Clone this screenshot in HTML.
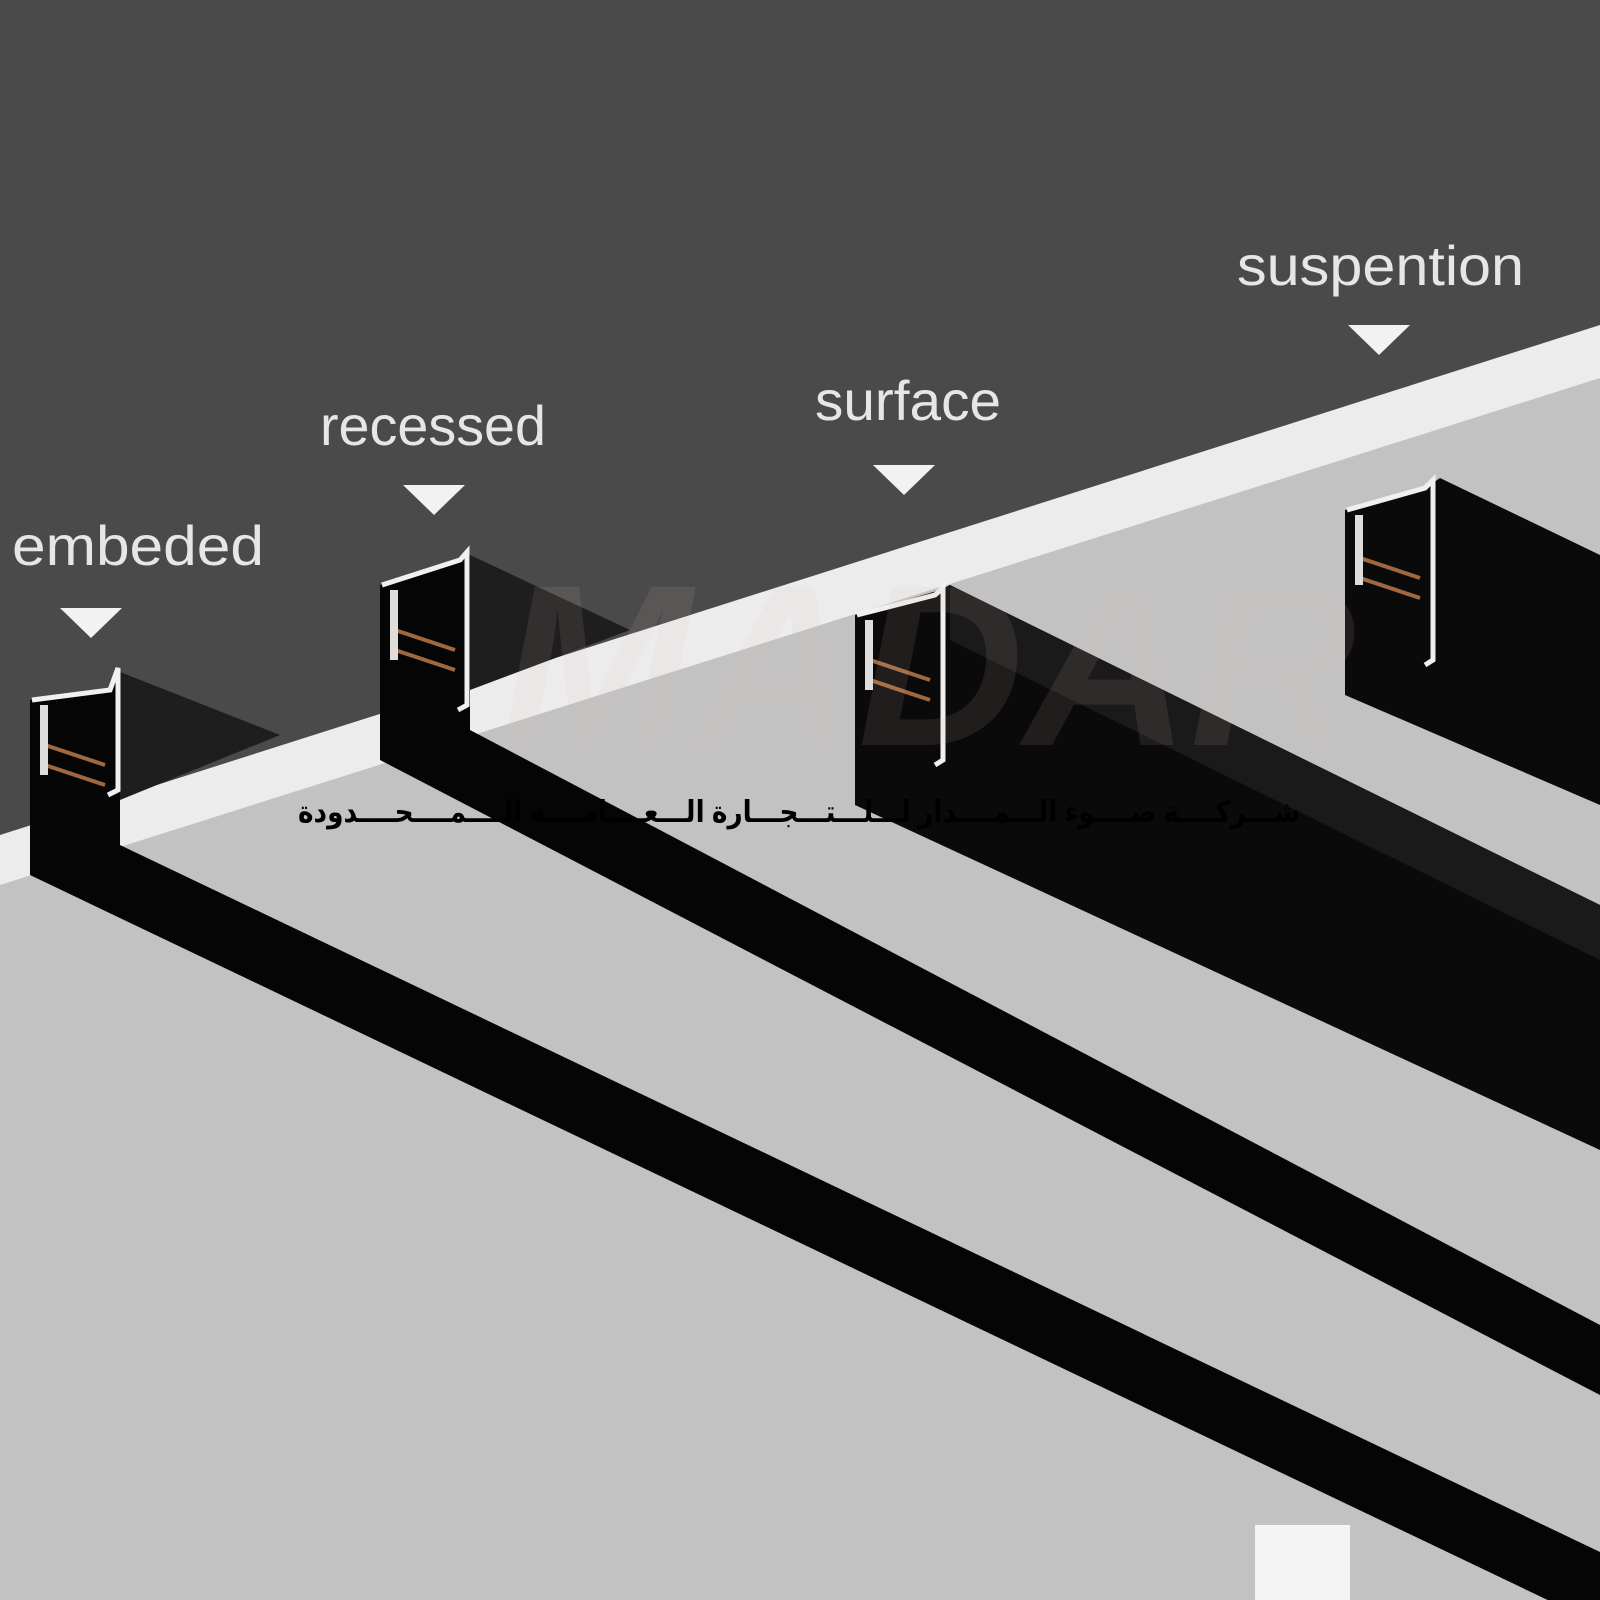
<!DOCTYPE html>
<html><head><meta charset="utf-8"><style>
html,body{margin:0;padding:0;background:#4a4a4a;}
svg{display:block}
</style></head><body>
<svg width="1600" height="1600" viewBox="0 0 1600 1600" xmlns="http://www.w3.org/2000/svg">
<rect width="1600" height="1600" fill="#4a4a4a"/>
<polygon points="0,880 1600,375 1600,1600 0,1600" fill="#c2c2c2"/>
<polygon points="0,835 1600,325 1600,378 0,885" fill="#ececec"/>
<polygon points="120,672 280,735 120,800" fill="#1e1e1e"/>
<polygon points="470,555 630,630 470,690" fill="#1e1e1e"/>
<polygon points="110,690 120,672 120,845 1600,1552 1600,1625 30,875 30,700" fill="#050505"/>
<polygon points="460,560 470,555 470,730 1600,1325 1600,1395 380,760 380,585" fill="#050505"/>
<polygon points="855,615 940,590 950,585 1600,905 1600,1150 855,805" fill="#0a0a0a"/>
<polygon points="950,585 1600,905 1600,960 950,640" fill="#1a1a1a"/>
<polygon points="1345,510 1430,485 1440,478 1600,555 1600,805 1345,695" fill="#0a0a0a"/>
<g fill="none" stroke="#f0f0f0" stroke-width="5">
<path d="M32,700 L110,690 L118,668 L118,790 L108,795"/>
<path d="M382,585 L460,560 L467,552 L467,705 L458,710"/>
<path d="M857,615 L935,595 L943,588 L943,760 L935,765"/>
<path d="M1347,510 L1425,488 L1433,480 L1433,660 L1425,665"/>
</g>
<g stroke="#a0683f" stroke-width="4">
<line x1="45" y1="745" x2="105" y2="765"/><line x1="45" y1="765" x2="105" y2="785"/>
<line x1="395" y1="630" x2="455" y2="650"/><line x1="395" y1="650" x2="455" y2="670"/>
<line x1="870" y1="660" x2="930" y2="680"/><line x1="870" y1="680" x2="930" y2="700"/>
<line x1="1360" y1="558" x2="1420" y2="578"/><line x1="1360" y1="578" x2="1420" y2="598"/>
</g>
<g fill="#ddd">
<rect x="40" y="705" width="8" height="70"/><rect x="390" y="590" width="8" height="70"/>
<rect x="865" y="620" width="8" height="70"/><rect x="1355" y="515" width="8" height="70"/>
</g>
<text x="500" y="745" font-family="Liberation Sans, sans-serif" font-weight="bold" font-style="italic" font-size="230" fill="#e8c0c0" opacity="0.1">MADAR</text>
<g font-family="Liberation Sans, DejaVu Sans, sans-serif" font-size="56" fill="#e6e6e6">
<text x="12" y="565" textLength="252" lengthAdjust="spacingAndGlyphs">embeded</text>
<text x="320" y="445" textLength="226" lengthAdjust="spacingAndGlyphs">recessed</text>
<text x="815" y="420" textLength="186" lengthAdjust="spacingAndGlyphs">surface</text>
<text x="1237" y="285" textLength="287" lengthAdjust="spacingAndGlyphs">suspention</text>
</g>
<g fill="#f2f2f2">
<polygon points="60,608 122,608 91,638"/>
<polygon points="403,485 465,485 434,515"/>
<polygon points="873,465 935,465 904,495"/>
<polygon points="1348,325 1410,325 1379,355"/>
</g>
<text x="1300" y="822" direction="rtl" font-family="Liberation Sans, DejaVu Sans, sans-serif" font-weight="bold" font-size="30" fill="#000" textLength="1002" lengthAdjust="spacingAndGlyphs">شـــركــــة ضــــوء الـــمــــدار لـــلـــتـــجـــارة الـــعــــامــــه الــــمــــحــــدودة</text>
<rect x="1255" y="1525" width="95" height="75" fill="#f4f4f4"/>
</svg>
</body></html>
